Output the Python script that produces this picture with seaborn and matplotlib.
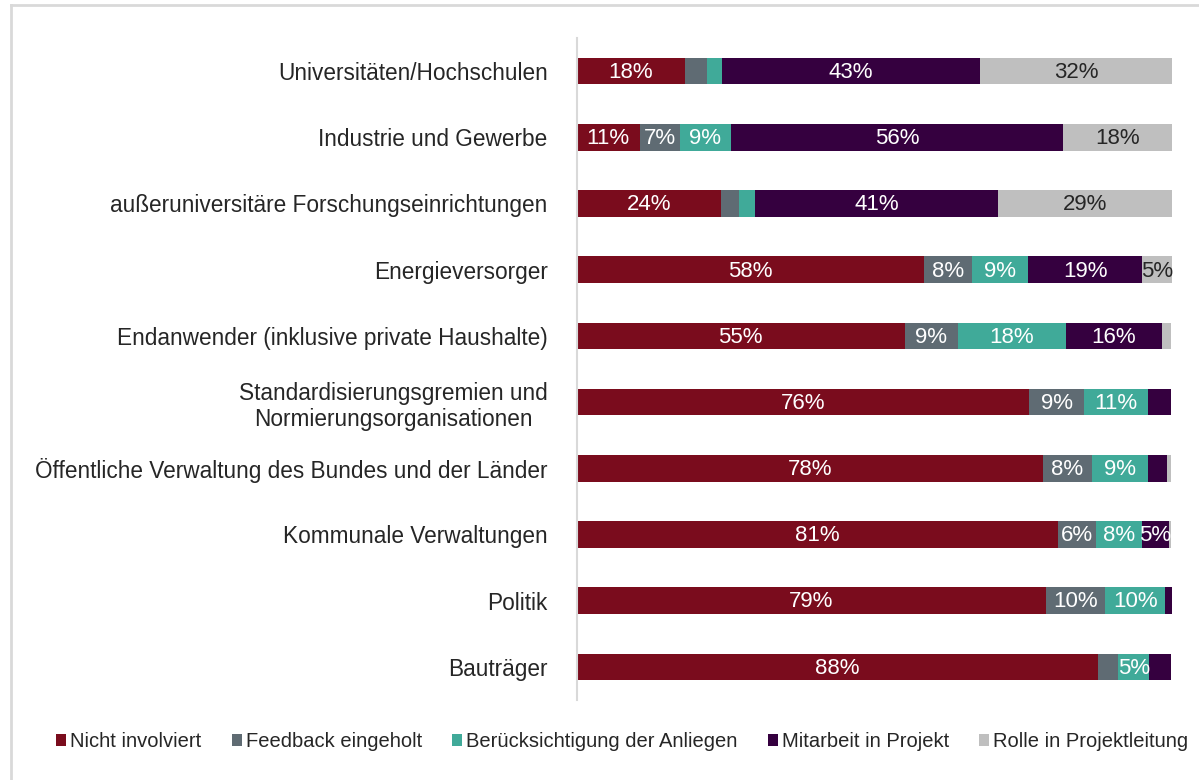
import matplotlib
matplotlib.use("Agg")
import matplotlib.pyplot as plt
from matplotlib.lines import Line2D
from matplotlib.patches import Patch
import seaborn as sns
import numpy as np
import pandas as pd

categories = [
    "Universitäten/Hochschulen",
    "Industrie und Gewerbe",
    "außeruniversitäre Forschungseinrichtungen",
    "Energieversorger",
    "Endanwender (inklusive private Haushalte)",
    "Standardisierungsgremien und\nNormierungsorganisationen",
    "Öffentliche Verwaltung des Bundes und der Länder",
    "Kommunale Verwaltungen",
    "Politik",
    "Bauträger",
]
series = ["Nicht involviert", "Feedback eingeholt", "Berücksichtigung der Anliegen",
          "Mitarbeit in Projekt", "Rolle in Projektleitung"]
nicht_involviert = [18.2, 10.6, 24.2, 58.3, 55.1, 76.0, 78.4, 80.9, 78.8, 87.6]
feedback = [3.7, 6.7, 3.0, 8.1, 8.9, 9.2, 8.1, 6.4, 10.0, 3.4]
beruecksichtigung = [2.5, 8.6, 2.8, 9.4, 18.2, 10.8, 9.4, 7.6, 10.1, 5.1]
mitarbeit = [43.4, 55.8, 40.7, 19.2, 16.1, 3.9, 3.3, 4.6, 1.1, 3.7]
rolle = [32.2, 18.3, 29.3, 5.0, 1.6, 0.0, 0.7, 0.4, 0.0, 0.0]
colors = ["#7A0C1D", "#5F6B73", "#40AA99", "#35003F", "#BFBFBF"]
text_colors = ["white", "white", "white", "white", "#262626"]

values = np.array([nicht_involviert, feedback, beruecksichtigung, mitarbeit, rolle])
cum = np.cumsum(values, axis=0)

plt.rcParams["font.family"] = ["Liberation Sans", "DejaVu Sans"]
fig = plt.figure(figsize=(11.99, 7.80), dpi=100)
ax = fig.add_axes([0.481, 0.1026, 0.4965, 0.8487])

for i in reversed(range(len(series))):
    df = pd.DataFrame({"cat": categories, "val": cum[i]})
    sns.barplot(data=df, x="val", y="cat", color=colors[i], orient="h",
                width=0.4, ax=ax, saturation=1, edgecolor="none")

for i in range(len(series)):
    for j in range(len(categories)):
        v = values[i, j]
        if round(v) >= 5:
            ax.text(cum[i, j] - v / 2, j + 0.02, f"{round(v):d}%", ha="center", va="center",
                    color=text_colors[i], fontsize=16)

ax.set_xlim(0, 100)
ax.set_ylim(len(categories) - 0.5, -0.5)
ax.set_xlabel("")
ax.set_ylabel("")
ax.set_xticks([])
ax.tick_params(axis="y", length=0, pad=21, labelsize=16.3, labelcolor="#262626")
for lab in ax.get_yticklabels():
    lab.set_multialignment("center")
for s in ["top", "right", "bottom"]:
    ax.spines[s].set_visible(False)
ax.spines["left"].set_color("#D9D9D9")
ax.spines["left"].set_linewidth(1.5)

handles = [Patch(facecolor=c, edgecolor="none") for c in colors]
fig.legend(handles, series, loc="center", bbox_to_anchor=(0.519, 0.049), ncol=5,
           frameon=False, fontsize=14.5, handlelength=0.5, handleheight=0.5,
           handletextpad=0.2, columnspacing=1.5, labelcolor="#262626")

fig.add_artist(Line2D([11 / 1199, 1.0], [1 - 5 / 780, 1 - 5 / 780], color="#D9D9D9", lw=2,
                      transform=fig.transFigure))
fig.add_artist(Line2D([11 / 1199, 11 / 1199], [0, 1 - 5 / 780], color="#D9D9D9", lw=2,
                      transform=fig.transFigure))

fig.savefig("out.png", dpi=100)
